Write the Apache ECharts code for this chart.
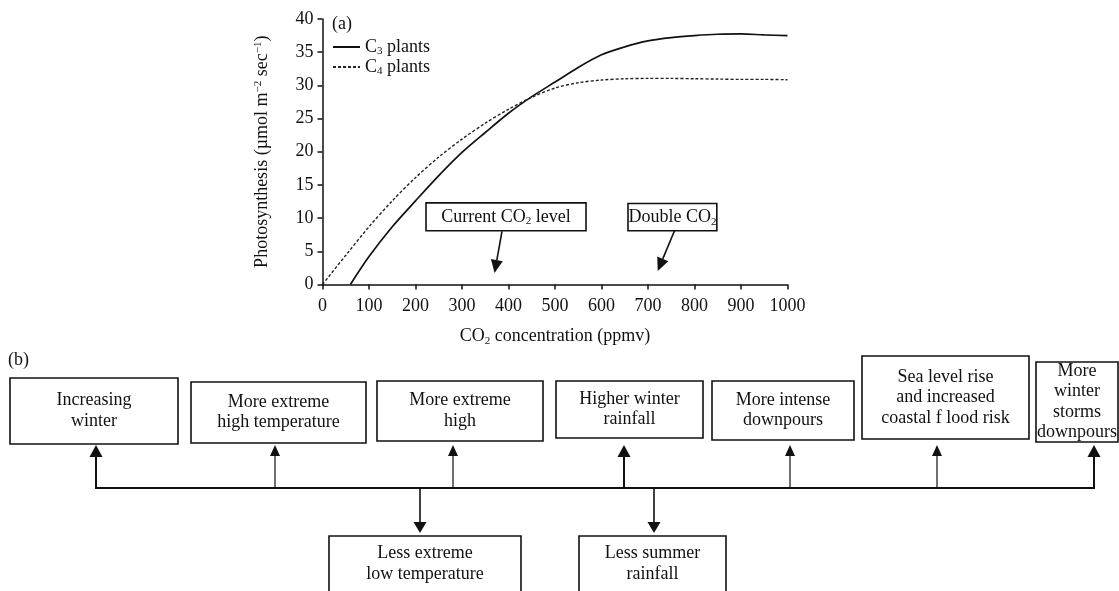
<!DOCTYPE html>
<html><head><meta charset="utf-8">
<script src="https://cdn.jsdelivr.net/npm/echarts@6/dist/echarts.min.js"></script>
<style>html,body{margin:0;padding:0;background:#fff}#c{width:1119px;height:591px}</style>
</head><body><div id="c"></div>
<script>
// ---- data ----
const c3X = [60,100,150,200,250,300,350,400,450,500,550,600,650,700,750,800,850,900,950,1000];
const c3Y = [0,4.2,8.7,12.6,16.4,19.9,22.9,25.8,28.3,30.5,32.7,34.6,35.8,36.7,37.2,37.5,37.7,37.75,37.6,37.5];
const c4X = [0,50,100,150,200,250,300,350,400,450,500,550,600,650,700,750,800,850,900,950,1000];
const c4Y = [0,4.4,8.7,12.6,16.1,19.2,21.9,24.3,26.4,28.2,29.6,30.4,30.8,31.0,31.05,31.05,31.0,30.95,30.9,30.9,30.85];
const seriesNames = ['C3 plants','C4 plants'];
const annotationLabels = ['Current CO{sub|2} level','Double CO{sub|2}'];
const effectLabels = ['Increasing\nwinter','More extreme\nhigh temperature','More extreme\nhigh','Higher winter\nrainfall','More intense\ndownpours','Sea level rise\nand increased\ncoastal f lood risk','More\nwinter\nstorms\ndownpours'];
const lessLabels = ['Less extreme\nlow temperature','Less summer\nrainfall'];

// ---- layout ----
const FONT = '"Liberation Serif","Times New Roman",serif';
const INK = '#111';
const annotLayout = [
  {x0:222.6, x1:566.7, y0:12.3, y1:8.1, from:[386,8.0], to:[370,1.75]},
  {x0:657, x1:848, y0:12.2, y1:8.1, from:[757,8.1], to:[721,2.05]}
];
const topBoxes = [
  {l:10,r:178,t:378,b:444,ax:96,bold:true},
  {l:191,r:366,t:382,b:443,ax:275,bold:false},
  {l:377,r:543,t:381,b:441,ax:453,bold:false},
  {l:556,r:703,t:381,b:438,ax:624,bold:true},
  {l:712,r:854,t:381,b:440,ax:790,bold:false},
  {l:862,r:1029,t:356,b:439,ax:937,bold:false},
  {l:1036,r:1118,t:362,b:442,ax:1094,bold:true}
];
const lowBoxes = [
  {l:329,r:521,t:536,b:600,ax:420},
  {l:579,r:726,t:536,b:600,ax:654}
];
const BUS_Y = 488, UP_TIP = 445, DOWN_TIP = 533;
const ICON_SOLID = 'path://M0,0H27V2H0Z';
const ICON_DASH = 'path://M0,0H3V2H0Z M5,0H8V2H5Z M10,0H13V2H10Z M15,0H18V2H15Z M20,0H23V2H20Z M25,0H27V2H25Z';

const rich = {
  sub:{fontSize:11, fontFamily:FONT, color:INK, verticalAlign:'bottom', lineHeight:12},
  sup:{fontSize:11, fontFamily:FONT, color:INK, verticalAlign:'top', lineHeight:12}
};

const chart = echarts.init(document.getElementById('c'));
chart.setOption({
  animation:false,
  backgroundColor:'#fff',
  grid:{left:322.5, right:331.5, top:19, bottom:306.5, containLabel:false, outerBoundsMode:'none'},
  legend:{
    orient:'vertical', left:333, top:37, padding:0, itemWidth:27, itemHeight:2, itemGap:0, symbolKeepAspect:false,
    data:[{name:seriesNames[0], icon:ICON_SOLID},{name:seriesNames[1], icon:ICON_DASH}],
    formatter:n => n.replace(/C(\d)/,'C{sub|$1}'),
    textStyle:{fontFamily:FONT, fontSize:18, color:INK, lineHeight:20, rich:rich}
  },
  xAxis:{
    type:'value', min:0, max:1000, interval:100,
    axisLine:{show:true, lineStyle:{color:INK, width:1.5}},
    axisTick:{show:true, length:5, lineStyle:{color:INK, width:1.5}},
    axisLabel:{color:INK, fontFamily:FONT, fontSize:18, margin:13, formatter:v => String(v)},
    splitLine:{show:false},
    name:'CO{sub|2} concentration (ppmv)', nameLocation:'middle', nameGap:42,
    nameTextStyle:{color:INK, fontFamily:FONT, fontSize:18, lineHeight:20, rich:rich}
  },
  yAxis:{
    type:'value', min:0, max:40, interval:5,
    axisLine:{show:true, lineStyle:{color:INK, width:1.5}},
    axisTick:{show:true, length:5, lineStyle:{color:INK, width:1.5}},
    axisLabel:{color:INK, fontFamily:FONT, fontSize:18, margin:9},
    splitLine:{show:false},
    name:'Photosynthesis (\u00b5mol m{sup|\u22122} sec{sup|\u22121})', nameLocation:'middle', nameGap:50, nameRotate:90,
    nameTextStyle:{color:INK, fontFamily:FONT, fontSize:18, lineHeight:20, rich:rich}
  },
  series:[
    {type:'line', name:seriesNames[0], data:c3X.map((x,i)=>[x,c3Y[i]]), symbol:'none', smooth:0.3,
     lineStyle:{color:INK, width:1.7}, itemStyle:{color:INK}},
    {type:'line', name:seriesNames[1], data:c4X.map((x,i)=>[x,c4Y[i]]), symbol:'none', smooth:0.3,
     lineStyle:{color:'#222', width:1.4, type:[3,2]}, itemStyle:{color:'#222'}}
  ]
});

function arrowEls(x1,y1,x2,y2,lw,hl,hw){
  const dx=x2-x1, dy=y2-y1, L=Math.hypot(dx,dy), ux=dx/L, uy=dy/L;
  const bx=x2-ux*hl, by=y2-uy*hl, px=-uy, py=ux;
  return [
    {type:'line', silent:true, shape:{x1:x1,y1:y1,x2:bx,y2:by}, style:{stroke:INK, lineWidth:lw}},
    {type:'polygon', silent:true, shape:{points:[[x2,y2],[bx+px*hw/2,by+py*hw/2],[bx-px*hw/2,by-py*hw/2]]}, style:{fill:INK}}
  ];
}
function boxEl(l,t,r,b){
  return {type:'rect', silent:true, shape:{x:l,y:t,width:r-l,height:b-t}, style:{fill:'#fff', stroke:INK, lineWidth:1.6}};
}
function textEl(txt,x,y,align){
  return {type:'text', silent:true, style:{text:txt, x:x, y:y, align:align||'center', verticalAlign:'middle',
    fontFamily:FONT, fontSize:18, lineHeight:20.5, fill:INK, rich:rich}};
}

const g = [];
const px = p => chart.convertToPixel({gridIndex:0}, p);
g.push(textEl('(a)', 332, 24, 'left'));
annotLayout.forEach((a,i)=>{
  const p0 = px([a.x0,a.y0]), p1 = px([a.x1,a.y1]);
  g.push(boxEl(p0[0],p0[1],p1[0],p1[1]));
  g.push(textEl(annotationLabels[i], (p0[0]+p1[0])/2, (p0[1]+p1[1])/2));
  const f = px(a.from), t = px(a.to);
  g.push(...arrowEls(f[0],f[1],t[0],t[1],1.6,13,12));
});
g.push(textEl('(b)', 8, 360, 'left'));
topBoxes.forEach((b,i)=>{
  g.push(boxEl(b.l,b.t,b.r,b.b));
  g.push(textEl(effectLabels[i], (b.l+b.r)/2, (b.t+b.b)/2));
  if(b.bold) g.push(...arrowEls(b.ax,BUS_Y,b.ax,UP_TIP,2,12,13));
  else g.push(...arrowEls(b.ax,BUS_Y,b.ax,UP_TIP,1.2,11,10));
});
g.push({type:'line', silent:true, shape:{x1:topBoxes[0].ax-1, y1:BUS_Y, x2:topBoxes[6].ax+1, y2:BUS_Y}, style:{stroke:INK, lineWidth:2}});
lowBoxes.forEach((b,i)=>{
  g.push(...arrowEls(b.ax,BUS_Y,b.ax,DOWN_TIP,1.6,11,13));
  g.push(boxEl(b.l,b.t,b.r,b.b));
  g.push(textEl(lessLabels[i], (b.l+b.r)/2, 564));
});
chart.setOption({graphic:{elements:g}});
</script>
</body></html>
